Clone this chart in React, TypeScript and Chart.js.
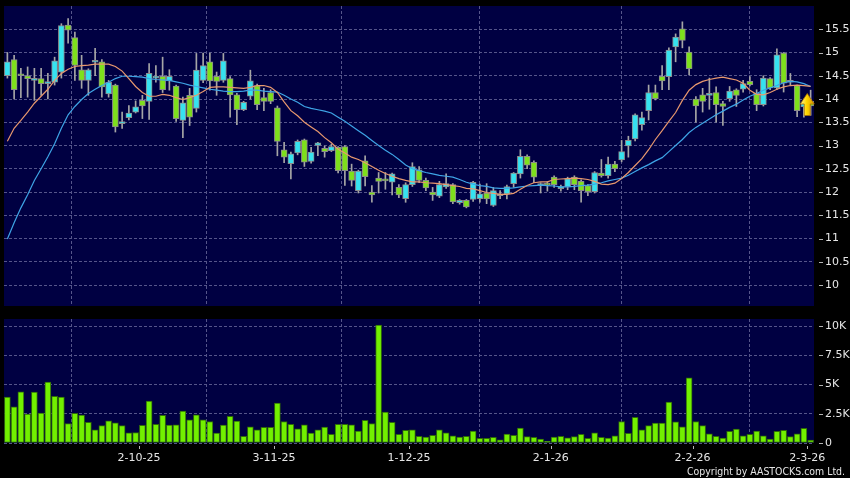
import React, { useEffect, useRef } from 'react';
import { Chart, registerables } from 'chart.js';

Chart.register(...registerables);

// ---- data ----
const opens = [
  14.50, 14.85, 14.52, 14.50, 14.40, 14.44, 14.33, 14.36, 14.58, 15.59,
  15.32, 14.63, 14.40, 14.79, 14.80, 14.11, 14.30, 13.47, 13.60, 13.72,
  13.97, 13.95, 14.45, 14.49, 14.39, 14.28, 13.54, 14.08, 13.80, 14.40,
  14.80, 14.49, 14.40, 14.44, 14.09, 13.77, 14.06, 14.29, 14.03, 14.14,
  13.81, 12.91, 12.61, 12.84, 13.12, 12.66, 13.00, 12.94, 12.89, 12.96,
  12.98, 12.45, 12.03, 12.67, 12.00, 12.30, 12.26, 12.21, 12.10, 11.86,
  12.16, 12.48, 12.25, 12.00, 11.91, 12.11, 12.16, 11.77, 11.82, 11.84,
  11.86, 11.98, 11.71, 11.92, 11.96, 12.18, 12.39, 12.77, 12.64, 12.14,
  12.17, 12.32, 12.07, 12.11, 12.32, 12.23, 12.14, 12.01, 12.41, 12.35,
  12.60, 12.69, 12.99, 13.14, 13.45, 13.75, 14.14, 14.49, 14.48, 15.12,
  15.51, 15.01, 14.00, 14.09, 14.08, 14.14, 13.90, 14.01, 14.20, 14.21,
  14.38, 14.12, 13.88, 14.44, 14.24, 14.99, 14.36, 14.29, 13.83, 13.95,
];
const highs = [
  15.00, 14.94, 14.66, 14.69, 14.66, 14.66, 14.55, 14.90, 15.62, 15.73,
  15.44, 14.94, 14.65, 15.09, 14.85, 14.40, 14.32, 13.72, 13.86, 13.96,
  14.08, 14.76, 14.72, 14.90, 14.63, 14.30, 14.04, 14.23, 14.98, 14.99,
  14.99, 14.58, 14.98, 14.48, 14.12, 13.95, 14.62, 14.32, 14.23, 14.20,
  13.85, 13.07, 12.86, 13.12, 13.14, 12.96, 13.07, 12.99, 13.03, 12.98,
  13.00, 12.60, 12.47, 12.78, 12.14, 12.42, 12.42, 12.41, 12.16, 12.20,
  12.63, 12.55, 12.30, 12.10, 12.23, 12.39, 12.18, 11.84, 11.84, 12.23,
  12.17, 12.18, 12.10, 12.03, 12.15, 12.42, 12.91, 12.80, 12.67, 12.20,
  12.22, 12.35, 12.15, 12.32, 12.35, 12.26, 12.16, 12.44, 12.70, 12.75,
  12.66, 13.11, 13.20, 13.68, 13.72, 14.30, 14.30, 14.72, 15.10, 15.40,
  15.66, 15.12, 14.05, 14.23, 14.45, 14.26, 13.95, 14.27, 14.22, 14.40,
  14.48, 14.20, 14.50, 14.46, 15.08, 15.00, 14.55, 14.30, 14.00, 14.19,
];
const lows = [
  14.45, 14.00, 14.03, 14.04, 13.97, 14.08, 14.00, 14.30, 14.45, 15.20,
  14.40, 14.23, 14.08, 14.50, 14.04, 14.04, 13.29, 13.37, 13.55, 13.70,
  13.58, 13.56, 14.36, 14.14, 14.19, 13.52, 13.17, 13.43, 13.72, 14.35,
  14.19, 14.08, 14.36, 13.61, 13.45, 13.75, 14.00, 13.77, 13.75, 13.90,
  12.78, 12.63, 12.28, 12.80, 12.55, 12.62, 12.78, 12.75, 12.87, 12.41,
  12.14, 12.13, 11.98, 12.13, 11.78, 11.98, 12.06, 11.94, 11.88, 11.78,
  12.12, 12.20, 12.03, 11.82, 11.88, 12.08, 11.75, 11.74, 11.66, 11.80,
  11.78, 11.75, 11.69, 11.86, 11.85, 12.10, 12.30, 12.50, 12.20, 11.98,
  12.02, 12.10, 12.02, 12.05, 12.05, 11.78, 11.92, 11.98, 12.32, 12.30,
  12.44, 12.65, 12.75, 13.10, 13.33, 13.55, 13.98, 14.20, 14.20, 14.80,
  15.10, 14.52, 13.50, 13.72, 13.78, 13.50, 13.43, 13.95, 13.84, 14.15,
  14.28, 13.75, 13.85, 14.20, 14.20, 14.15, 14.30, 13.62, 13.61, 13.65,
];
const closes = [
  14.80, 14.20, 14.50, 14.44, 14.44, 14.33, 14.36, 14.82, 15.58, 15.48,
  14.72, 14.40, 14.63, 14.81, 14.26, 14.36, 13.40, 13.50, 13.70, 13.83,
  13.85, 14.55, 14.47, 14.20, 14.49, 13.58, 13.92, 13.61, 14.62, 14.72,
  14.39, 14.38, 14.82, 14.09, 13.77, 13.93, 14.39, 13.88, 13.95, 13.95,
  13.09, 12.75, 12.82, 13.09, 12.64, 12.86, 13.06, 12.87, 12.98, 12.46,
  12.46, 12.25, 12.45, 12.33, 11.94, 12.23, 12.24, 12.39, 11.94, 12.16,
  12.55, 12.25, 12.09, 11.94, 12.16, 12.18, 11.79, 11.82, 11.68, 12.21,
  11.96, 11.85, 12.03, 11.94, 12.12, 12.41, 12.77, 12.58, 12.32, 12.18,
  12.15, 12.16, 12.12, 12.29, 12.16, 12.03, 12.01, 12.42, 12.35, 12.60,
  12.50, 12.87, 13.11, 13.66, 13.60, 14.14, 14.01, 14.39, 15.05, 15.33,
  15.26, 14.65, 13.85, 13.95, 14.10, 13.88, 13.84, 14.17, 14.08, 14.33,
  14.31, 13.88, 14.45, 14.24, 14.95, 14.34, 14.40, 13.75, 13.90, 13.85,
];
const ma10 = [
  13.09, 13.37, 13.54, 13.72, 13.91, 14.06, 14.21, 14.40, 14.55, 14.64,
  14.70, 14.72, 14.73, 14.75, 14.75, 14.75, 14.70, 14.60, 14.44, 14.27,
  14.14, 14.06, 14.06, 14.10, 14.08, 14.03, 13.99, 14.03, 14.08, 14.16,
  14.25, 14.26, 14.26, 14.25, 14.24, 14.23, 14.25, 14.29, 14.29, 14.25,
  14.14, 13.94, 13.75, 13.64, 13.50, 13.40, 13.30, 13.17, 13.06, 12.92,
  12.84, 12.75, 12.70, 12.63, 12.55, 12.47, 12.40, 12.34, 12.29, 12.25,
  12.22, 12.22, 12.20, 12.19, 12.18, 12.16, 12.14, 12.12, 12.08, 12.07,
  12.03, 11.99, 11.97, 11.95, 11.95, 11.97, 12.06, 12.14, 12.20, 12.22,
  12.22, 12.27, 12.28, 12.29, 12.30, 12.29, 12.27, 12.23, 12.17, 12.16,
  12.19, 12.29, 12.42, 12.57, 12.72, 12.91, 13.13, 13.32, 13.52, 13.71,
  13.97, 14.19, 14.31, 14.38, 14.42, 14.45, 14.47, 14.44, 14.41, 14.34,
  14.19, 14.10, 14.09, 14.14, 14.21, 14.26, 14.29, 14.30, 14.29, 14.27,
];
const ma20 = [
  10.99, 11.34, 11.66, 11.94, 12.25, 12.50, 12.76, 13.04, 13.37, 13.66,
  13.84, 13.99, 14.12, 14.21, 14.29, 14.36, 14.44, 14.49, 14.49, 14.48,
  14.47, 14.44, 14.42, 14.41, 14.40, 14.37, 14.34, 14.30, 14.27, 14.24,
  14.21, 14.19, 14.17, 14.16, 14.16, 14.17, 14.19, 14.19, 14.17, 14.16,
  14.15, 14.08, 14.00, 13.93, 13.84, 13.80, 13.77, 13.74, 13.70, 13.61,
  13.52, 13.42, 13.32, 13.22, 13.11, 13.00, 12.90, 12.81, 12.70, 12.58,
  12.50, 12.46, 12.42, 12.39, 12.36, 12.34, 12.32, 12.27, 12.21, 12.17,
  12.14, 12.12, 12.09, 12.08, 12.08, 12.09, 12.11, 12.13, 12.14, 12.15,
  12.14, 12.13, 12.11, 12.11, 12.12, 12.14, 12.15, 12.17, 12.20, 12.24,
  12.27, 12.30, 12.36, 12.44, 12.52, 12.59, 12.67, 12.74, 12.87, 13.00,
  13.13, 13.28, 13.39, 13.48, 13.57, 13.66, 13.74, 13.82, 13.89, 13.98,
  14.06, 14.12, 14.19, 14.24, 14.29, 14.35, 14.38, 14.37, 14.33, 14.27,
];
const volumes = [
  3920, 3100, 4380, 2470, 4350, 2560, 5200, 4000, 3920, 1650,
  2530, 2390, 1760, 1130, 1480, 1900, 1730, 1480, 880, 900,
  1500, 3580, 1590, 2360, 1540, 1560, 2730, 1990, 2410, 1990,
  1840, 850, 1540, 2270, 1880, 560, 1390, 1130, 1330, 1330,
  3410, 1840, 1590, 1220, 1560, 850, 1130, 1360, 740, 1590,
  1590, 1560, 1020, 1930, 1670, 10070, 2640, 1760, 740, 1080,
  1130, 560, 510, 650, 1130, 880, 620, 510, 560, 1020,
  390, 390, 480, 280, 770, 650, 1280, 540, 480, 340,
  140, 510, 560, 450, 540, 740, 390, 880, 480, 420,
  620, 1840, 820, 2190, 1130, 1480, 1710, 1710, 3500, 1820,
  1390, 5570, 1840, 1480, 790, 560, 420, 990, 1190, 620,
  740, 1020, 620, 340, 990, 1080, 540, 790, 1250, 250,
];
const monthLabels = ['2-10-25', '3-11-25', '1-12-25', '2-1-26', '2-2-26', '2-3-26'];
const monthStartIndex = [20, 40, 60, 81, 102, 119];
const priceTicks = [10, 10.5, 11, 11.5, 12, 12.5, 13, 13.5, 14, 14.5, 15, 15.5];
const volumeTicks = [0, 2500, 5000, 7500, 10000];
const copyrightText = 'Copyright by AASTOCKS.com Ltd.';

// ---- styles ----
const NAVY = '#000042';
const GRID = '#55558a';
const TEXT = '#e6e6e6';
const UP = '#36e2f0';
const DOWN = '#7ee01c';
const WICK = '#a6a6a6';
const ORANGE = '#e8986e';
const BLUE = '#3ea4e6';
const VOL = '#72f000';
const VOL_BORDER = '#2f6a08';
const FONT = { family: "'DejaVu Sans', Verdana, sans-serif", size: 11 };

const idx = closes.map((_, i) => i);
const gridValues = monthStartIndex.map((i) => i - 0.5);

const panelBg = {
  id: 'panelBg',
  beforeDraw(chart: any) {
    const { ctx, chartArea: a } = chart;
    ctx.save();
    ctx.fillStyle = NAVY;
    ctx.fillRect(a.left, a.top, a.right - a.left, a.bottom - a.top);
    ctx.restore();
  },
};

const yTickDashes = {
  id: 'yTickDashes',
  afterDraw(chart: any) {
    const { ctx, chartArea: a } = chart;
    const y = chart.scales.y;
    ctx.save();
    ctx.strokeStyle = '#b4b4b4';
    ctx.lineWidth = 1;
    ctx.beginPath();
    y.ticks.forEach((t: any) => {
      const py = Math.round(y.getPixelForValue(t.value)) + 0.5;
      ctx.moveTo(a.right + 5, py);
      ctx.lineTo(a.right + 9, py);
    });
    ctx.stroke();
    ctx.restore();
  },
};

const lastArrow = {
  id: 'lastArrow',
  afterDatasetsDraw(chart: any) {
    const { ctx, scales } = chart;
    const n = closes.length;
    const cx = scales.x.getPixelForValue(n - 1.5);
    const cy = scales.y.getPixelForValue(closes[n - 1]);
    const top = cy - 12.5;
    const base = cy - 2;
    const bottom = cy + 9.5;
    const g = ctx.createLinearGradient(cx - 7, 0, cx + 7, 0);
    g.addColorStop(0, '#fff6a0');
    g.addColorStop(0.45, '#ffd800');
    g.addColorStop(1, '#d89400');
    ctx.save();
    ctx.beginPath();
    ctx.moveTo(cx, top);
    ctx.lineTo(cx + 7, base);
    ctx.lineTo(cx + 3, base);
    ctx.lineTo(cx + 3, bottom);
    ctx.lineTo(cx - 3, bottom);
    ctx.lineTo(cx - 3, base);
    ctx.lineTo(cx - 7, base);
    ctx.closePath();
    ctx.fillStyle = g;
    ctx.fill();
    ctx.strokeStyle = '#a87000';
    ctx.lineWidth = 0.8;
    ctx.stroke();
    ctx.restore();
  },
};

const xTicksAndCopyright = {
  id: 'xTicksAndCopyright',
  afterDraw(chart: any) {
    const { ctx, chartArea: a, scales } = chart;
    ctx.save();
    ctx.strokeStyle = '#b4b4b4';
    ctx.lineWidth = 1;
    ctx.beginPath();
    gridValues.forEach((v) => {
      const px = Math.round(scales.x.getPixelForValue(v)) + 0.5;
      ctx.moveTo(px, a.bottom + 3);
      ctx.lineTo(px, a.bottom + 6);
    });
    ctx.stroke();
    ctx.fillStyle = TEXT;
    ctx.font = "11px 'DejaVu Sans', Verdana, sans-serif";
    ctx.textAlign = 'right';
    ctx.textBaseline = 'alphabetic';
    ctx.fillText(copyrightText, chart.width - 5, chart.height - 3.5, 158);
    ctx.restore();
  },
};

const zeroPad = (s: any) => {
  s.paddingTop = 0;
  s.paddingBottom = 0;
  s.paddingLeft = 0;
  s.paddingRight = 0;
};

const baseX = (labels: boolean, height: number) => ({
  type: 'linear' as const,
  min: -0.5,
  max: closes.length - 0.5,
  offset: false,
  afterBuildTicks: (axis: any) => {
    axis.ticks = gridValues.map((v) => ({ value: v }));
  },
  afterFit: (s: any) => {
    s.height = height;
    zeroPad(s);
  },
  grid: { color: GRID, drawTicks: false, lineWidth: 1 },
  border: { display: false, dash: [3, 2] },
  ticks: labels
    ? {
        display: true,
        color: TEXT,
        font: FONT,
        padding: 9,
        maxRotation: 0,
        autoSkip: false,
        callback: (_v: any, i: number) => monthLabels[i] ?? '',
      }
    : { display: false },
});

const baseY = (min: number, max: number, ticks: number[], fmt: (v: number) => string) => ({
  type: 'linear' as const,
  position: 'right' as const,
  min,
  max,
  afterBuildTicks: (axis: any) => {
    axis.ticks = ticks.map((v) => ({ value: v }));
  },
  afterFit: (s: any) => {
    s.width = 36;
    zeroPad(s);
  },
  grid: { color: GRID, drawTicks: false },
  border: { display: false, dash: [3, 2] },
  ticks: { color: TEXT, font: FONT, padding: 11, callback: (v: any) => fmt(v) },
});

export default function App() {
  const priceRef = useRef<HTMLCanvasElement>(null);
  const volRef = useRef<HTMLCanvasElement>(null);

  useEffect(() => {
    const bodyColors = idx.map((i) => (closes[i] >= opens[i] ? UP : DOWN));
    const price = new Chart(priceRef.current as HTMLCanvasElement, {
      type: 'bar',
      data: {
        datasets: [
          {
            type: 'line',
            label: 'MA10',
            data: idx.map((i) => ({ x: i, y: ma10[i] })),
            borderColor: ORANGE,
            borderWidth: 1.2,
            pointRadius: 0,
            tension: 0,
            order: 1,
          } as any,
          {
            type: 'line',
            label: 'MA20',
            data: idx.map((i) => ({ x: i, y: ma20[i] })),
            borderColor: BLUE,
            borderWidth: 1.2,
            pointRadius: 0,
            tension: 0,
            order: 1,
          } as any,
          {
            type: 'bar',
            label: 'body',
            data: idx.map((i) => ({ x: i, y: [opens[i], closes[i]] })),
            backgroundColor: bodyColors,
            borderColor: '#8c8c8c',
            borderWidth: 1,
            borderSkipped: false,
            barThickness: 6,
            minBarLength: 2,
            grouped: false,
            order: 2,
          } as any,
          {
            type: 'bar',
            label: 'wick',
            data: idx.map((i) => ({ x: i, y: [lows[i], highs[i]] })),
            backgroundColor: WICK,
            barThickness: 1,
            grouped: false,
            order: 3,
          } as any,
        ],
      },
      options: {
        responsive: false,
        animation: false,
        events: [],
        layout: { padding: { left: 4, top: 6, right: 0, bottom: 6 } },
        plugins: { legend: { display: false }, tooltip: { enabled: false } },
        scales: {
          x: baseX(false, 0) as any,
          y: baseY(9.55, 16.0, priceTicks, (v) => String(v)) as any,
        },
      },
      plugins: [panelBg, yTickDashes, lastArrow],
    });

    const vol = new Chart(volRef.current as HTMLCanvasElement, {
      type: 'bar',
      data: {
        datasets: [
          {
            label: 'Volume',
            data: idx.map((i) => ({ x: i, y: volumes[i] })),
            backgroundColor: VOL,
            borderColor: VOL_BORDER,
            borderWidth: 1,
            borderSkipped: false,
            barThickness: 6,
            grouped: false,
          } as any,
        ],
      },
      options: {
        responsive: false,
        animation: false,
        events: [],
        layout: { padding: { left: 4, top: 7, right: 0, bottom: 0 } },
        plugins: { legend: { display: false }, tooltip: { enabled: false } },
        scales: {
          x: baseX(true, 35) as any,
          y: baseY(0, 10600, volumeTicks, (v) => (v === 0 ? '0' : `${v / 1000}K`)) as any,
        },
      },
      plugins: [panelBg, yTickDashes, xTicksAndCopyright],
    });

    return () => {
      price.destroy();
      vol.destroy();
    };
  }, []);

  return (
    <div
      style={{
        position: 'fixed',
        left: 0,
        top: 0,
        width: 850,
        height: 478,
        background: '#000',
        overflow: 'hidden',
      }}
    >
      <canvas
        ref={priceRef}
        width={850}
        height={312}
        style={{ position: 'absolute', left: 0, top: 0, width: 850, height: 312 }}
      />
      <canvas
        ref={volRef}
        width={850}
        height={166}
        style={{ position: 'absolute', left: 0, top: 312, width: 850, height: 166 }}
      />
    </div>
  );
}
